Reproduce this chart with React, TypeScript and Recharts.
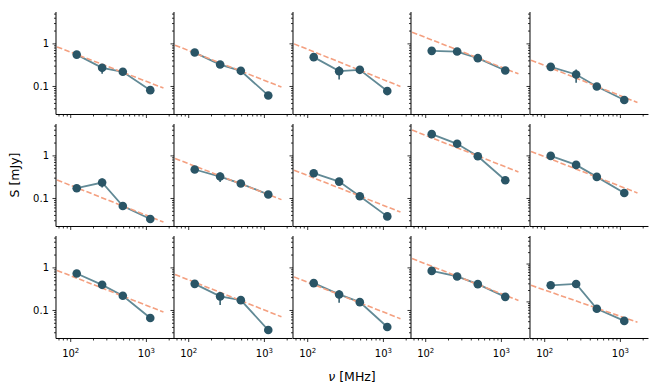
import React from 'react';
import { ComposedChart, Line, XAxis, YAxis, ErrorBar } from 'recharts';

// Observing frequencies (MHz)
const FREQ_MHZ = [120, 260, 488, 1125];
// Frequencies at the two ends of the dashed power-law line (MHz)
const FIT_FREQ = [66, 1680];

// Flux densities (mJy) per panel, rows left to right
const S_P01 = [0.56, 0.274, 0.221, 0.082];
const S_P02 = [0.625, 0.327, 0.233, 0.0616];
const S_P03 = [0.488, 0.229, 0.246, 0.078];
const S_P04 = [0.686, 0.66, 0.462, 0.237];
const S_P05 = [0.289, 0.191, 0.1, 0.048];
const S_P06 = [0.174, 0.237, 0.0667, 0.033];
const S_P07 = [0.479, 0.327, 0.224, 0.124];
const S_P08 = [0.392, 0.249, 0.113, 0.038];
const S_P09 = [3.24, 1.92, 0.98, 0.268];
const S_P10 = [1.0, 0.614, 0.321, 0.135];
const S_P11 = [0.74, 0.4, 0.221, 0.0664];
const S_P12 = [0.422, 0.214, 0.175, 0.0347];
const S_P13 = [0.438, 0.238, 0.157, 0.041];
const S_P14 = [0.85, 0.63, 0.415, 0.209];
const S_P15 = [0.274, 0.298, 0.066, 0.0315];

const PANEL_FLUX = [S_P01, S_P02, S_P03, S_P04, S_P05, S_P06, S_P07, S_P08, S_P09, S_P10, S_P11, S_P12, S_P13, S_P14, S_P15];

// Dashed power-law line values at FIT_FREQ[0] and FIT_FREQ[1]
const FIT_LOW_END = [0.85, 0.93, 1.0, 1.88, 0.415, 0.272, 0.869, 0.461, 4.03, 1.27, 0.869, 0.7, 0.615, 1.66, 0.274];
const FIT_HIGH_END = [0.092, 0.097, 0.1, 0.198, 0.042, 0.028, 0.094, 0.048, 0.42, 0.135, 0.092, 0.071, 0.064, 0.172, 0.029];

// Error bar bounds of the second point (null = not visible)
const ERR2_LO = [0.198, null, 0.146, null, 0.122, 0.18, 0.244, null, null, null, null, 0.134, 0.151, null, null];
const ERR2_HI = [0.327, null, 0.3, null, 0.25, 0.294, 0.407, null, null, null, null, 0.27, 0.3, null, null];

const X_TICKS = [70, 80, 90, 100, 200, 300, 400, 500, 600, 700, 800, 900, 1000, 2000];
const X_MAJOR = [100, 1000];
const X_LABELS = ['2', '3'];
const Y_TICKS_ALL = [0.02, 0.03, 0.04, 0.05, 0.06, 0.07, 0.08, 0.09, 0.1, 0.2, 0.3, 0.4, 0.5, 0.6, 0.7, 0.8, 0.9, 1, 2, 3, 4, 5];
const Y_MAJOR = [0.1, 1];
const Y_LABELS = ['0.1', '1'];

const X_DOMAIN = [63.9, 2348];
const Y_DOMAIN_SHARED = [0.022, 5.6];
const Y_DOMAIN_LAST = [0.0108, 5.5];

const MARKER = '#2a5566';
const LINE_COLOR = '#628a96';
const FIT_COLOR = '#f4a080';
const FONT = 'DejaVu Sans';

const PLOT_LEFT = 56;
const PLOT_TOP = 12.3;
const PW = 118.46;
const PH = 102.5;
const COL_STEP = 118.46;
const ROW_STEP = 112;
const ML = 45;
const MR = 10;
const MT = 6;
const MB = 32;

function XTick(props: any) {
  const { x, y, payload, showLabel } = props;
  const v = payload.value;
  const mi = X_MAJOR.indexOf(v);
  const major = mi >= 0;
  return (
    <g>
      <line x1={x} x2={x} y1={y} y2={y + (major ? 3.5 : 2)} stroke="#000" strokeWidth={0.8} />
      {showLabel && major && (
        <text x={x} y={y + 19} textAnchor="middle" fontSize={10} fontFamily={FONT} fill="#000">
          <tspan>10</tspan>
          <tspan dy={-4.5} fontSize={7}>{X_LABELS[mi]}</tspan>
        </text>
      )}
    </g>
  );
}

function YTick(props: any) {
  const { x, y, payload, showLabel } = props;
  const v = payload.value;
  const mi = Y_MAJOR.indexOf(v);
  const major = mi >= 0;
  return (
    <g>
      <line x1={x} x2={x - (major ? 3.5 : 2)} y1={y} y2={y} stroke="#000" strokeWidth={0.8} />
      {showLabel && major && (
        <text x={x - 7} y={y} dy="0.36em" textAnchor="end" fontSize={10} fontFamily={FONT} fill="#000">
          {Y_LABELS[mi]}
        </text>
      )}
    </g>
  );
}

function Panel({ idx }: { idx: number }) {
  const row = Math.floor(idx / 5);
  const col = idx % 5;
  const flux = PANEL_FLUX[idx];
  const data = FREQ_MHZ.map((f, i) => {
    const lo = ERR2_LO[idx];
    const hi = ERR2_HI[idx];
    const err = i === 1 && lo != null && hi != null ? [flux[i] - lo, hi - flux[i]] : [0, 0];
    return { f, s: flux[i], err };
  });
  const fit = FIT_FREQ.map((f, i) => ({ f, fit: i === 0 ? FIT_LOW_END[idx] : FIT_HIGH_END[idx] }));
  const yDomain = idx === 14 ? Y_DOMAIN_LAST : Y_DOMAIN_SHARED;
  const yTicks = Y_TICKS_ALL.filter((t) => t >= yDomain[0] && t <= yDomain[1]);
  const showX = row === 2;
  const showY = col === 0;
  return (
    <div
      style={{
        position: 'absolute',
        left: PLOT_LEFT + col * COL_STEP - ML,
        top: PLOT_TOP + row * ROW_STEP - MT,
      }}
    >
      <ComposedChart
        width={ML + PW + MR}
        height={MT + PH + MB}
        data={data}
        margin={{ top: MT, right: MR, bottom: 0, left: 0 }}
      >
        <XAxis
          dataKey="f"
          type="number"
          scale="log"
          domain={X_DOMAIN}
          allowDataOverflow
          ticks={X_TICKS}
          interval={0}
          tickSize={0}
          tickMargin={0}
          tickLine={false}
          axisLine={{ stroke: '#000', strokeWidth: 1 }}
          height={MB}
          tick={(p: any) => <XTick {...p} showLabel={showX} />}
        />
        <YAxis
          type="number"
          scale="log"
          domain={yDomain}
          allowDataOverflow
          ticks={yTicks}
          interval={0}
          tickSize={0}
          tickMargin={0}
          tickLine={false}
          axisLine={{ stroke: '#000', strokeWidth: 1 }}
          width={ML}
          tick={(p: any) => <YTick {...p} showLabel={showY} />}
        />
        <Line dataKey="s" stroke={LINE_COLOR} strokeWidth={1.8} dot={false} isAnimationActive={false} />
        <Line
          data={fit}
          dataKey="fit"
          stroke={FIT_COLOR}
          strokeWidth={1.6}
          strokeDasharray="5.5 2.4"
          dot={false}
          isAnimationActive={false}
        />
        <Line
          dataKey="s"
          stroke="none"
          dot={{ r: 4.3, fill: MARKER, stroke: MARKER, strokeWidth: 0 }}
          activeDot={false}
          isAnimationActive={false}
        >
          <ErrorBar dataKey="err" direction="y" width={0} stroke={MARKER} strokeWidth={1.5} />
        </Line>
      </ComposedChart>
    </div>
  );
}

export default function App() {
  const panels = [];
  for (let i = 0; i < 15; i++) panels.push(<Panel key={i} idx={i} />);
  return (
    <div style={{ position: 'absolute', left: 0, top: 0, width: 664, height: 392, background: '#fff' }}>
      <svg width={664} height={392} style={{ position: 'absolute', left: 0, top: 0 }}>
        <text
          x={18.5}
          y={175}
          transform="rotate(-90 18.5 175)"
          textAnchor="middle"
          fontSize={12.5}
          fontFamily={FONT}
          fill="#000"
        >
          S [mJy]
        </text>
        <text x={352} y={381} textAnchor="middle" fontSize={12.5} fontFamily={FONT} fill="#000">
          <tspan fontStyle="italic">ν</tspan> [MHz]
        </text>
      </svg>
      {panels}
    </div>
  );
}
